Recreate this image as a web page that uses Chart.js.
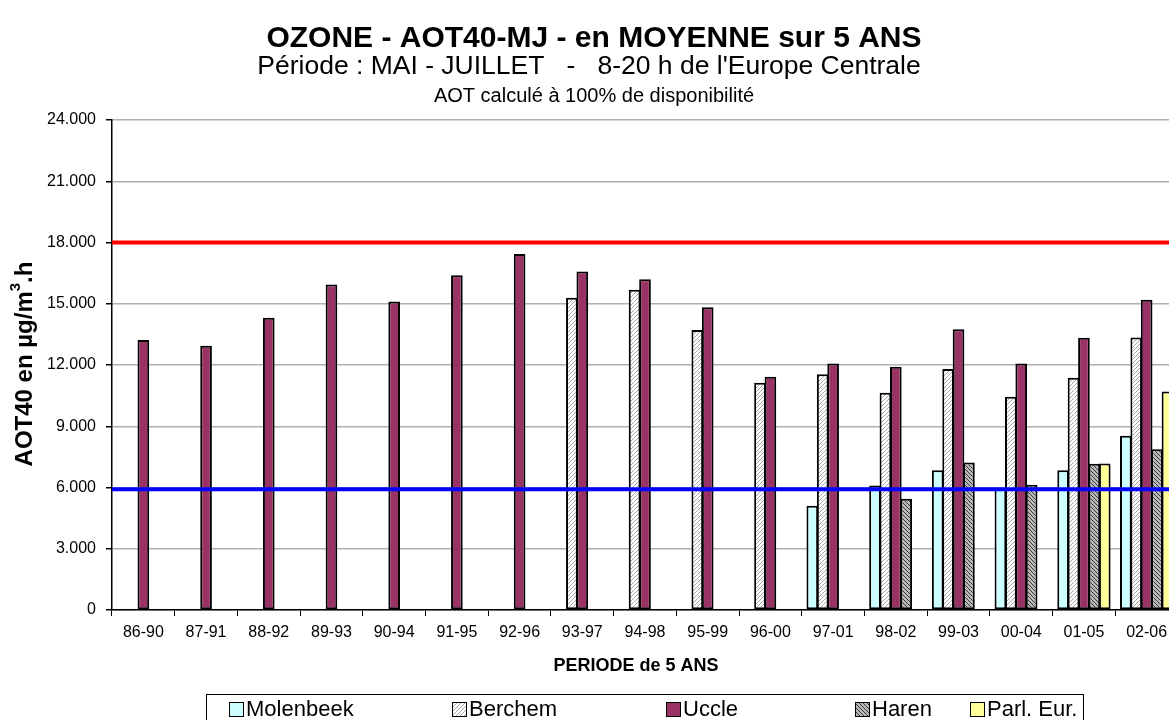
<!DOCTYPE html>
<html>
<head>
<meta charset="utf-8">
<script src="https://cdn.jsdelivr.net/npm/chart.js@4/dist/chart.umd.min.js"></script>
<style>
html,body{margin:0;padding:0;background:#fff;overflow:hidden;width:1169px;height:720px;}
canvas{display:block;}
</style>
</head>
<body>
<canvas id="c" width="1188" height="720"></canvas>
<script>
const categories = ['86-90','87-91','88-92','89-93','90-94','91-95','92-96','93-97','94-98','95-99','96-00','97-01','98-02','99-03','00-04','01-05','02-06'];
const molenbeek = [null,null,null,null,null,null,null,null,null,null,null,5110,6100,6850,5950,6850,8530];
const berchem   = [null,null,null,null,null,null,null,15290,15680,13720,11130,11550,10640,11810,10440,11370,13350];
const uccle     = [13230,12940,14310,15940,15110,16400,17440,16580,16200,14830,11420,12070,11910,13750,12070,13330,15190];
const haren     = [null,null,null,null,null,null,null,null,null,null,null,null,5450,7230,6130,7160,7870];
const parlEur   = [null,null,null,null,null,null,null,null,null,null,null,null,null,null,null,7170,10700];
const seriesNames = ['Molenbeek','Berchem','Uccle','Haren','Parl. Eur.'];
const yTickLabels = ['0','3.000','6.000','9.000','12.000','15.000','18.000','21.000','24.000'];
const redLimit = 18000;
const blueLimit = 5920;
const titleLines = ['OZONE - AOT40-MJ - en MOYENNE sur 5 ANS', "Période : MAI - JUILLET   -   8-20 h de l'Europe Centrale", 'AOT calculé à 100% de disponibilité'];
const xTitle = 'PERIODE de 5 ANS';
const yTitle = 'AOT40 en µg/m';

function makePattern(bg, fg, dir){
  const t = document.createElement('canvas');
  t.width = 4; t.height = 4;
  const g = t.getContext('2d');
  g.fillStyle = bg; g.fillRect(0,0,4,4);
  g.fillStyle = fg;
  for(let i=0;i<4;i++){
    const x = dir>0 ? 3-i : i;
    g.fillRect(x,i,1,1);
  }
  return g.createPattern(t,'repeat');
}
const ctx0 = document.getElementById('c').getContext('2d');
const berchemFill = makePattern('#ffffff','#a8a8a8',1);
const harenFill = makePattern('#b8b8b8','#3a3a3a',-1);
const fills = ['#ccffff', berchemFill, '#993366', harenFill, '#ffff99'];
const dataArrays = [molenbeek, berchem, uccle, haren, parlEur];

const FONT = '"Liberation Sans", Arial, sans-serif';

const decor = {
  id:'decor',
  afterDatasetsDraw(chart){
    const {ctx, chartArea:a, scales:{y}} = chart;
    ctx.save();
    ctx.beginPath(); ctx.rect(a.left, a.top-5, a.right-a.left, a.bottom-a.top+5); ctx.clip();
    [[redLimit,'#ff0000'],[blueLimit,'#0000ff']].forEach(([v,c])=>{
      const py = y.getPixelForValue(v);
      ctx.strokeStyle = c; ctx.lineWidth = 4;
      ctx.beginPath(); ctx.moveTo(a.left, py); ctx.lineTo(a.right, py); ctx.stroke();
    });
    ctx.restore();
  },
  afterDraw(chart){
    const {ctx, chartArea:a} = chart;
    ctx.save();
    ctx.fillStyle = '#000';
    ctx.textAlign = 'center'; ctx.textBaseline = 'middle';
    ctx.font = 'bold 30px ' + FONT;
    ctx.fillText(titleLines[0], 594, 39);
    ctx.font = '26.5px ' + FONT;
    ctx.fillText(titleLines[1], 589, 67);
    ctx.font = '20px ' + FONT;
    ctx.fillText(titleLines[2], 594, 96);
    // x title
    ctx.font = 'bold 18px ' + FONT;
    ctx.fillText(xTitle, 636, 666);
    // y title
    ctx.save();
    ctx.translate(25, 364);
    ctx.rotate(-Math.PI/2);
    ctx.font = 'bold 24px ' + FONT;
    const w1 = ctx.measureText(yTitle).width;
    ctx.font = 'bold 15px ' + FONT;
    const w2 = ctx.measureText('3').width;
    ctx.font = 'bold 24px ' + FONT;
    const w3 = ctx.measureText('.h').width;
    const tot = w1+w2+w3;
    ctx.textAlign = 'left';
    let x0 = -tot/2;
    ctx.fillText(yTitle, x0, 0);
    ctx.font = 'bold 15px ' + FONT;
    ctx.fillText('3', x0+w1, -9);
    ctx.font = 'bold 24px ' + FONT;
    ctx.fillText('.h', x0+w1+w2, 0);
    ctx.restore();
    // legend
    ctx.strokeStyle = '#000'; ctx.lineWidth = 1;
    ctx.strokeRect(206.5, 694.5, 877, 40);
    const lx = [229, 452, 666, 855, 970];
    ctx.font = '22px ' + FONT;
    ctx.textAlign = 'left';
    seriesNames.forEach((n,i)=>{
      ctx.fillStyle = fills[i];
      ctx.fillRect(lx[i]+0.5, 702.5, 14, 14);
      ctx.strokeStyle = '#000'; ctx.lineWidth = 1;
      ctx.strokeRect(lx[i]+0.5, 702.5, 14, 14);
      ctx.fillStyle = '#000';
      ctx.fillText(n, lx[i]+17, 710);
    });
    ctx.restore();
  }
};

new Chart(ctx0, {
  type:'bar',
  data:{
    labels: categories,
    datasets: dataArrays.map((d,i)=>({
      label: seriesNames[i],
      data: d,
      backgroundColor: fills[i],
      borderColor:'#000',
      borderWidth:2,
      borderSkipped:false,
      categoryPercentage:0.83,
      barPercentage:1.12
    }))
  },
  options:{
    responsive:false,
    animation:false,
    devicePixelRatio:1,
    layout:{padding:{top:120, right:10, left:0, bottom:0}},
    plugins:{legend:{display:false}, title:{display:false}, tooltip:{enabled:false}},
    scales:{
      x:{
        grid:{display:true, drawOnChartArea:false, drawTicks:true, tickLength:6, color:'#000', offset:true},
        border:{color:'#000', width:1.5},
        ticks:{color:'#000', font:{family:FONT, size:16}, padding:7, maxRotation:0, autoSkip:false},
        afterFit(s){ s.height = 110; }
      },
      y:{
        min:0, max:24000,
        grid:{color:'#b0b0b0', lineWidth:1.5, tickLength:6, tickColor:'#000'},
        border:{color:'#000', width:1.5},
        ticks:{stepSize:3000, color:'#000', font:{family:FONT, size:16}, padding:10,
          callback:(v,i)=>yTickLabels[i]},
        afterFit(s){ s.width = 112; }
      }
    }
  },
  plugins:[decor]
});
</script>
</body>
</html>
